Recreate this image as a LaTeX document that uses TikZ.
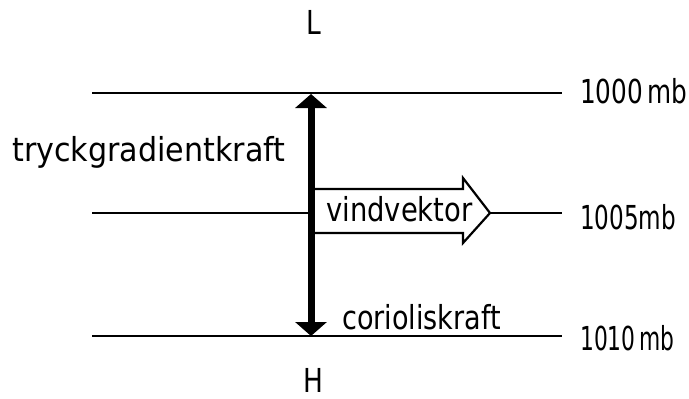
\documentclass[tikz,border=0pt]{standalone}
\usepackage{fontspec}
\usepackage{graphicx}
\setmainfont{DejaVu Sans}
\usetikzlibrary{arrows.meta}
\newcommand\narrow[2]{\scalebox{#1}[1]{#2}}
\tikzset{
  isobar/.style={line width=2.8pt},
  lbl/.style={inner sep=0pt, anchor=base west, font=\fontsize{33}{40}\selectfont},
  force/.style={line width=7pt, {Triangle[width=31pt,length=14pt]}-{Triangle[width=31pt,length=14pt]}},
  wind/.style={line width=2.2pt, fill=white, line join=miter}
}
\begin{document}
\begin{tikzpicture}[x=1pt, y=-1pt]
  \useasboundingbox (0,0) rectangle (689,399);

  % isobars
  \coordinate (i1l) at (92,93);   \coordinate (i1r) at (562,93);
  \coordinate (i2l) at (92,213);  \coordinate (i2r) at (562,213);
  \coordinate (i3l) at (92,336);  \coordinate (i3r) at (562,336);
  \draw[isobar] (i1l) -- (i1r);
  \draw[isobar] (i2l) -- (i2r);
  \draw[isobar] (i3l) -- (i3r);

  % wind vector (hollow block arrow)
  \coordinate (wb) at (311,213);
  \coordinate (wt) at (490,213);
  \draw[wind] (311,189) -- (463,189) -- (463,178) -- (wt)
              -- (463,243) -- (463,233) -- (311,233);

  % pressure gradient / coriolis force
  \coordinate (ftop) at (311,94);
  \coordinate (fbot) at (311,336);
  \draw[force] (ftop) -- (fbot);

  % labels
  \node[lbl] (lowp)  at (306,34)  {\narrow{0.8}{L}};
  \node[lbl] (highp) at (303,392) {\narrow{0.8}{H}};
  \node[lbl] (pgf)   at (12,161)  {\narrow{0.914}{tryckgradientkraft}};
  \node[lbl] (vv)    at (326,221) {\narrow{0.83}{vindvektor}};
  \node[lbl] (cor)   at (342,329) {\narrow{0.82}{corioliskraft}};
  \node[lbl] (p1)    at (580,103) {\narrow{0.75}{1000\,mb}};
  \node[lbl] (p2)    at (580,229) {\narrow{0.70}{1005mb}};
  \node[lbl] (p3)    at (580,350) {\narrow{0.66}{1010\,mb}};
\end{tikzpicture}
\end{document}
